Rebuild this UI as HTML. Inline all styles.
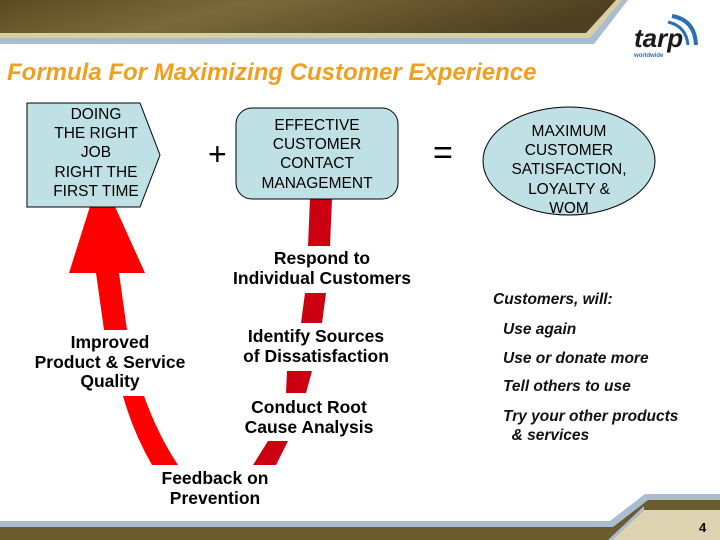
<!DOCTYPE html>
<html><head><meta charset="utf-8"><style>
html,body{margin:0;padding:0;background:#fff;}
body{width:720px;height:540px;position:relative;overflow:hidden;font-family:"Liberation Sans",Arial,sans-serif;}
.t{position:absolute;text-align:center;color:#000;white-space:nowrap;}
.b{font-weight:bold;font-size:17.5px;line-height:19.5px;}
.i{position:absolute;font-style:italic;font-weight:bold;font-size:15.5px;color:#111;white-space:nowrap;}
.bx{font-size:15.5px;line-height:19.2px;}
</style></head><body>
<svg width="720" height="540" style="position:absolute;left:0;top:0">
<defs>
<linearGradient id="ol" x1="0" y1="0" x2="1" y2="0.2">
<stop offset="0" stop-color="#5a4a20"/><stop offset="0.4" stop-color="#7a6a3a"/><stop offset="1" stop-color="#4e4020"/></linearGradient>
</defs>
<polygon points="0,0 628,0 594,44 0,44" fill="#a9bcd0"/>
<polygon points="0,0 622,0 590,38 0,38" fill="#d6cfa4"/>
<polygon points="0,0 616,0 586,33 0,33" fill="url(#ol)"/>
<path d="M672,16 Q695,20 696,45" stroke="#2a6fb8" stroke-width="4" fill="none"/>
<path d="M668,22 Q686,26 688,45" stroke="#2a6fb8" stroke-width="3" fill="none"/>
<text x="634" y="47" font-family="Liberation Sans" font-weight="bold" font-style="italic" font-size="26" fill="#1a1a1a">tarp</text>
<text x="634" y="57" font-family="Liberation Sans" font-weight="bold" font-size="6" fill="#2a6fb8">worldwide</text>
<polygon points="0,521 610,521 645,494 720,494 720,500 648,500 613,527 0,527" fill="#a9bcd0"/>
<polygon points="0,527 613,527 648,500 720,500 720,540 0,540" fill="#6b5c30"/>
<polygon points="612,540 644,510 720,510 720,540" fill="#ddd3b0"/>
<polygon points="608,540 612,540 644,510 644,506" fill="#a9bcd0"/>
<polygon points="92,200 112,200 145,273 119,273 127,330 104,330 96,273 69,273" fill="#ff0000"/>
<path d="M123,396 L144,396 Q158,435 178,465 L152,465 Q133,432 123,396 Z" fill="#ff0000"/>
<g fill="#cc0010">
<polygon points="310,198 332,198 330,246 308,246"/>
<polygon points="305,293 326,293 322,323 301,323"/>
<polygon points="287,371 312,371 306,393 286,393"/>
<polygon points="268,441 288,441 276,465 253,465"/>
</g>
<polygon points="27,103 140,103 160,155 140,207 27,207" fill="#bfe0e4" stroke="#000" stroke-width="1"/>
<rect x="236" y="108" width="162" height="91" rx="16" fill="#bfe0e4" stroke="#000" stroke-width="1"/>
<ellipse cx="569" cy="161" rx="86" ry="54" fill="#bfe0e4" stroke="#000" stroke-width="1"/>
</svg>
<div style="position:absolute;left:7px;top:59px;font-size:24px;font-weight:bold;font-style:italic;color:#f0a020;white-space:nowrap;">Formula For Maximizing Customer Experience</div>
<div class="t bx" style="left:27px;top:105px;width:138px">DOING<br>THE RIGHT<br>JOB<br>RIGHT THE<br>FIRST TIME</div>
<div class="t bx" style="left:236px;top:116px;width:162px">EFFECTIVE<br>CUSTOMER<br>CONTACT<br>MANAGEMENT</div>
<div class="t bx" style="left:483px;top:122px;width:172px">MAXIMUM<br>CUSTOMER<br>SATISFACTION,<br>LOYALTY &amp;<br>WOM</div>
<div class="t" style="left:208px;top:136px;font-size:32px">+</div>
<div class="t" style="left:433px;top:134px;font-size:34px">=</div>
<div class="t b" style="left:212px;top:249px;width:220px">Respond to<br>Individual Customers</div>
<div class="t b" style="left:10px;top:333px;width:200px">Improved<br>Product &amp; Service<br>Quality</div>
<div class="t b" style="left:216px;top:327px;width:200px">Identify Sources<br>of Dissatisfaction</div>
<div class="t b" style="left:209px;top:398px;width:200px">Conduct Root<br>Cause Analysis</div>
<div class="t b" style="left:115px;top:469px;width:200px">Feedback on<br>Prevention</div>
<div class="i" style="left:493px;top:291px">Customers, will:</div>
<div class="i" style="left:503px;top:321px">Use again</div>
<div class="i" style="left:503px;top:350px">Use or donate more</div>
<div class="i" style="left:503px;top:378px">Tell others to use</div>
<div class="i" style="left:503px;top:407px;line-height:19px">Try your other products<br>&nbsp;&nbsp;&amp; services</div>
<div style="position:absolute;left:699px;top:520px;font-size:13px;font-weight:bold">4</div>
</body></html>
